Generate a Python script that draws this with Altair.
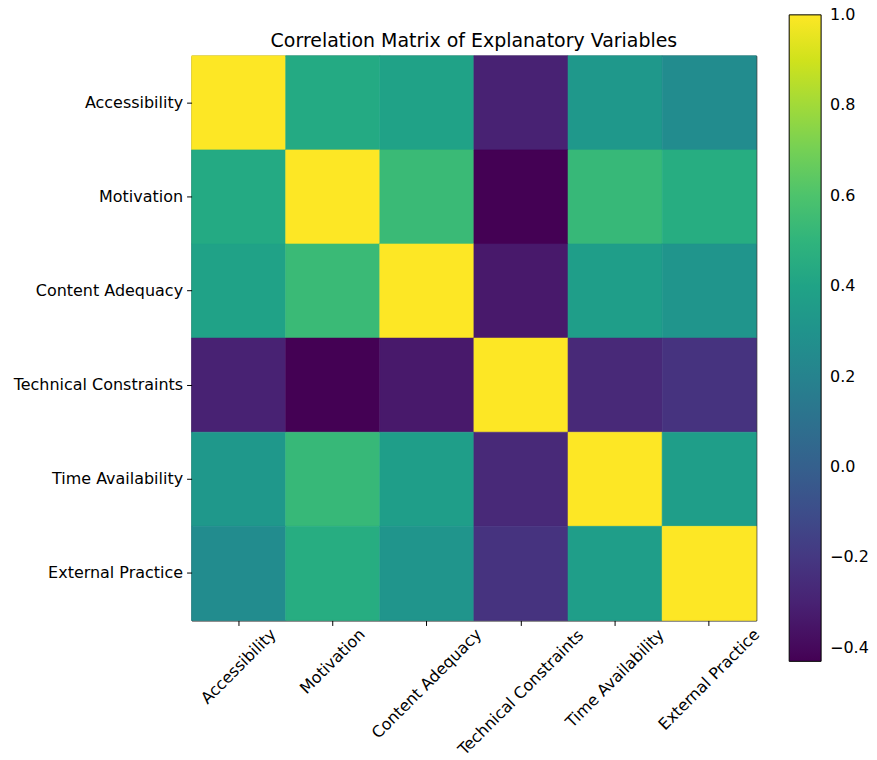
import altair as alt
import pandas as pd

variables = ["Accessibility", "Motivation", "Content Adequacy",
             "Technical Constraints", "Time Availability", "External Practice"]

# correlation matrix rows
row_accessibility = [1.00, 0.44, 0.39, -0.30, 0.33, 0.26]
row_motivation = [0.44, 1.00, 0.54, -0.43, 0.53, 0.46]
row_content = [0.39, 0.54, 1.00, -0.34, 0.37, 0.31]
row_technical = [-0.30, -0.43, -0.34, 1.00, -0.27, -0.22]
row_time = [0.33, 0.53, 0.37, -0.27, 1.00, 0.37]
row_external = [0.26, 0.46, 0.31, -0.22, 0.37, 1.00]

colorbar_ticks = [-0.4, -0.2, 0.0, 0.2, 0.4, 0.6, 0.8, 1.0]

rows = [row_accessibility, row_motivation, row_content,
        row_technical, row_time, row_external]

records = []
for i, r in enumerate(rows):
    for j, v in enumerate(r):
        records.append({"row": variables[i], "col": variables[j], "value": v})
df = pd.DataFrame(records)

vmin = min(min(r) for r in rows)
vmax = max(max(r) for r in rows)

FONT = "DejaVu Sans"
FS = 16
SIZE = 566

# approximate DejaVu Sans advance widths (units of 2048 per em) for rotated label centring
ADV = {"A": 1401, "c": 1126, "e": 1260, "s": 1067, "i": 569, "b": 1300, "l": 569,
       "t": 803, "y": 1212, "M": 1767, "o": 1253, "v": 1212, "a": 1255, "n": 1298,
       "C": 1430, "d": 1300, "q": 1300, "u": 1298, "T": 1251, "h": 1298, "r": 842,
       " ": 651, "m": 1995, "x": 1212, "P": 1235, "E": 1294, "p": 1300, "k": 1186,
       "f": 721}


def text_width(s):
    return sum(ADV.get(ch, 1250) for ch in s) * FS / 2048.0


lab = pd.DataFrame({"col": variables})
lab["off"] = [(text_width(s) + 18.0) / 4.0 for s in variables]

# tiny epsilon on the top end keeps the "1.0" colorbar label centred on its tick
color_scale = alt.Scale(scheme="viridis", domain=[vmin, vmax + 1e-4], nice=False, zero=False)
x_enc = alt.X("col:N", sort=variables, title=None,
              scale=alt.Scale(paddingInner=0, paddingOuter=0),
              axis=alt.Axis(labels=False, tickColor="black", tickSize=5, tickWidth=1,
                            domain=False))

heat = alt.Chart(df).mark_rect(
    strokeWidth=0.6, stroke=alt.ExprRef("scale('color', datum.value)")
).encode(
    x=x_enc,
    y=alt.Y("row:N", sort=variables, title=None,
            scale=alt.Scale(paddingInner=0, paddingOuter=0),
            axis=alt.Axis(labelFont=FONT, labelFontSize=FS, labelColor="black",
                          tickColor="black", tickSize=5, tickWidth=1,
                          domain=False, labelPadding=4)),
    color=alt.Color("value:Q", title=None, scale=color_scale,
                    legend=alt.Legend(orient="none", legendX=599, legendY=-41,
                                      direction="vertical",
                                      gradientLength=648, gradientThickness=32,
                                      gradientStrokeColor="black", gradientStrokeWidth=1,
                                      values=colorbar_ticks, labelOverlap=False,
                                      labelBaseline="middle",
                                      format=".1f", labelFont=FONT, labelFontSize=FS,
                                      labelColor="black", labelOffset=9)),
    tooltip=["row", "col", "value"],
)

xlabels = alt.Chart(lab).mark_text(
    angle=315, align="center", baseline="middle", font=FONT, fontSize=FS,
    color="black",
    dx=alt.ExprRef("-datum.off"), dy=alt.ExprRef("datum.off"),
).encode(
    x=alt.X("col:N", sort=variables),
    y=alt.value(SIZE + 5),
    text="col:N",
)

chart = alt.layer(heat, xlabels).properties(
    width=SIZE, height=SIZE,
    padding={"left": 5, "top": 6, "right": 0, "bottom": 0},
    title=alt.TitleParams("Correlation Matrix of Explanatory Variables",
                          font=FONT, fontSize=19, fontWeight="normal", color="black",
                          offset=0, dy=36, frame="group"),
).configure_view(stroke="black", strokeWidth=1)

chart.save("out.html", embed_options={"renderer": "svg", "actions": False})
